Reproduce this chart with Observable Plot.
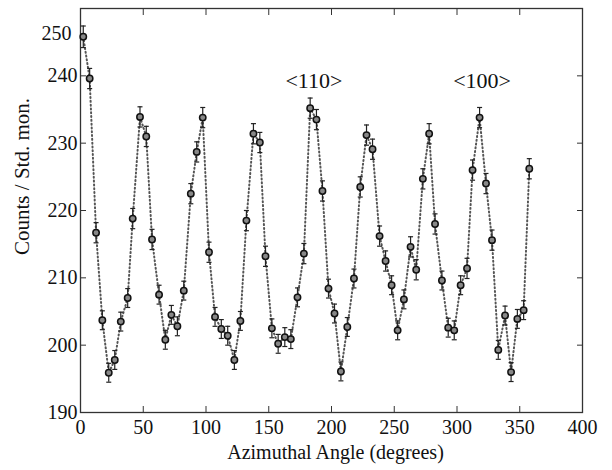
<!DOCTYPE html>
<html>
<head>
<meta charset="utf-8">
<script src="https://cdn.jsdelivr.net/npm/d3@7"></script>
<script src="https://cdn.jsdelivr.net/npm/@observablehq/plot@0.6"></script>
<style>
  html, body { margin: 0; padding: 0; background: #fff; }
  #chart svg { display: block; }
</style>
</head>
<body>
<div id="chart"></div>
<script>
const angles = [2.2, 7.3, 12.4, 17.4, 22.5, 27.3, 32.1, 37.6, 41.6, 47.4, 52.4, 57.0,
  62.6, 67.6, 72.4, 77.2, 82.3, 87.9, 92.6, 97.4, 102.4, 107.2, 112.2, 117.3,
  122.6, 127.4, 132.2, 137.8, 142.9, 147.4, 152.5, 157.5, 162.8, 167.6, 172.9, 178.0,
  183.0, 188.0, 192.8, 197.6, 202.4, 207.5, 212.6, 217.9, 222.9, 227.9, 232.7, 238.3,
  243.1, 247.9, 252.7, 257.7, 263.0, 267.5, 272.8, 277.8, 282.5, 288.0, 293.0, 297.8,
  302.9, 308.0, 312.4, 318.0, 323.1, 327.9, 332.9, 338.3, 343.1, 348.1, 353.1, 357.6];
const counts = [245.8, 239.6, 216.7, 203.7, 195.9, 197.8, 203.5, 207.0, 218.8, 233.9, 231.0, 215.7,
  207.5, 200.8, 204.5, 202.8, 208.1, 222.5, 228.7, 233.8, 213.8, 204.2, 202.4, 201.4,
  197.8, 203.6, 218.5, 231.4, 230.1, 213.2, 202.5, 200.2, 201.2, 200.9, 207.1, 213.6,
  235.2, 233.5, 222.9, 208.4, 204.7, 196.1, 202.7, 209.9, 223.5, 231.2, 229.1, 216.2,
  212.5, 208.9, 202.2, 206.8, 214.6, 211.2, 224.7, 231.4, 218.0, 209.6, 202.6, 202.2,
  208.9, 211.4, 226.0, 233.8, 224.0, 215.6, 199.3, 204.4, 196.0, 203.9, 205.2, 226.2];
const errors = [1.6, 1.5, 1.5, 1.4, 1.4, 1.4, 1.4, 1.4, 1.5, 1.5, 1.5, 1.5,
  1.4, 1.4, 1.4, 1.4, 1.4, 1.5, 1.5, 1.5, 1.5, 1.4, 1.4, 1.4,
  1.4, 1.4, 1.5, 1.5, 1.5, 1.5, 1.4, 1.4, 1.4, 1.4, 1.4, 1.5,
  1.5, 1.5, 1.5, 1.4, 1.4, 1.4, 1.4, 1.4, 1.5, 1.5, 1.5, 1.5,
  1.5, 1.4, 1.4, 1.4, 1.5, 1.5, 1.5, 1.5, 1.5, 1.4, 1.4, 1.4,
  1.4, 1.5, 1.5, 1.5, 1.5, 1.5, 1.4, 1.4, 1.4, 1.4, 1.4, 1.5];
const xTicks = [0, 50, 100, 150, 200, 250, 300, 350, 400];
const yTicks = [190, 200, 210, 220, 230, 240];
const yTopTick = [250];
const xTitle = "Azimuthal Angle (degrees)";
const yTitle = "Counts / Std. mon.";
const noteLabels = ["<110>", "<100>"];
const noteAngles = [186, 320];
const noteCounts = [239.3, 239.3];

const data = angles.map((a, i) => ({angle: a, value: counts[i], err: errors[i]}));
const notes = noteLabels.map((t, i) => ({text: t, angle: noteAngles[i], value: noteCounts[i]}));

const chart = Plot.plot({
  width: 612,
  height: 470,
  marginLeft: 80,
  marginRight: 30,
  marginTop: 8,
  marginBottom: 58,
  style: {fontFamily: "'Liberation Serif', 'DejaVu Serif', serif", fontSize: "20px", color: "#111", background: "#fff"},
  x: {domain: [0, 400]},
  y: {domain: [190, 250]},
  marks: [
    Plot.frame({stroke: "#333", strokeWidth: 1.3}),
    Plot.axisX({ticks: xTicks, tickSize: -6, tickPadding: 13, stroke: "#333", label: null}),
    Plot.axisX({anchor: "top", ticks: xTicks, tickSize: -6, tickFormat: () => "", stroke: "#333", label: null}),
    Plot.axisY({ticks: yTicks, tickSize: -6, tickPadding: 9, stroke: "#333", label: null}),
    Plot.axisY({ticks: yTopTick, tickSize: 0, tickPadding: 9, dy: 25, label: null}),
    Plot.axisY({anchor: "right", ticks: yTicks, tickSize: -6, tickFormat: () => "", stroke: "#333", label: null}),
    Plot.text([xTitle], {frameAnchor: "bottom", textAnchor: "middle", lineAnchor: "middle", dx: 4, dy: 40, fontSize: 20, fill: "#111"}),
    Plot.text([yTitle], {frameAnchor: "left", rotate: -90, textAnchor: "middle", lineAnchor: "middle", dx: -58, dy: -34, fontSize: 21, fill: "#111"}),
    Plot.line(data, {x: "angle", y: "value", stroke: "#555", strokeWidth: 2, strokeDasharray: "1,2.8"}),
    Plot.ruleX(data, {x: "angle", y1: d => d.value - d.err, y2: d => d.value + d.err, stroke: "#222", strokeWidth: 1.2}),
    Plot.link(data, {x1: d => d.angle - 2, x2: d => d.angle + 2, y1: d => d.value + d.err, y2: d => d.value + d.err, stroke: "#222", strokeWidth: 1.2}),
    Plot.link(data, {x1: d => d.angle - 2, x2: d => d.angle + 2, y1: d => d.value - d.err, y2: d => d.value - d.err, stroke: "#222", strokeWidth: 1.2}),
    Plot.dot(data, {x: "angle", y: "value", r: 3.2, fill: "#888", stroke: "#111", strokeWidth: 1.5}),
    Plot.text(notes, {x: "angle", y: "value", text: "text", fontSize: 22, fill: "#111"})
  ]
});
document.getElementById("chart").appendChild(chart);
</script>
</body>
</html>
